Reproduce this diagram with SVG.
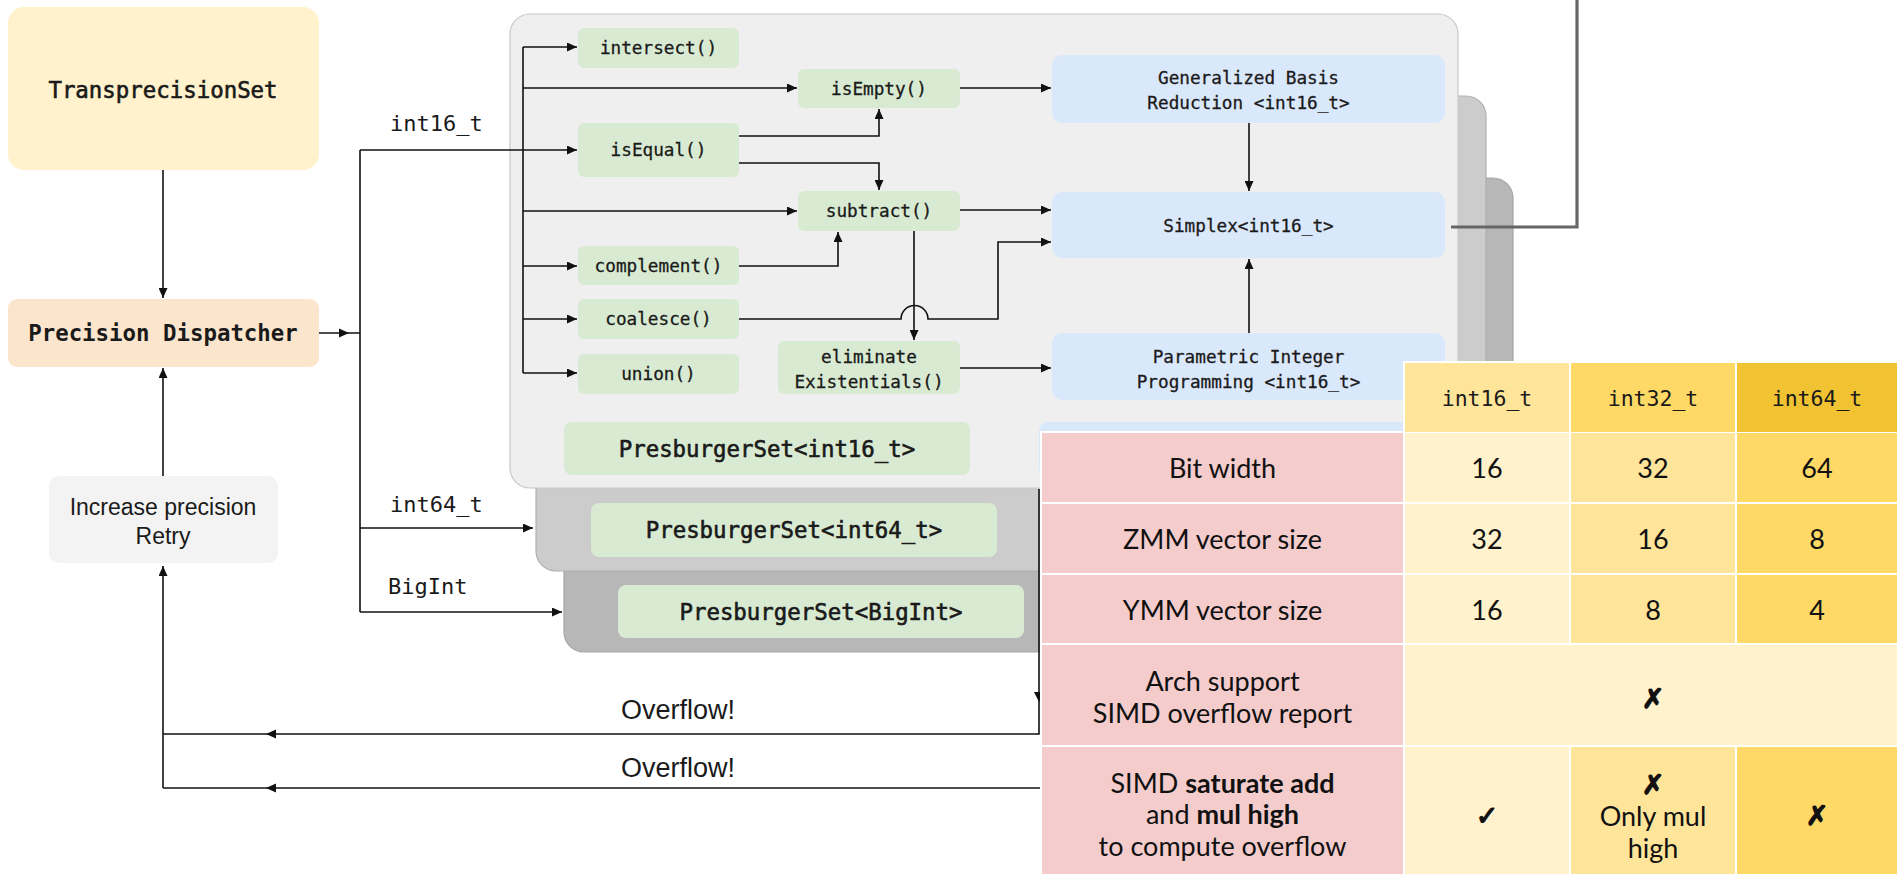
<svg xmlns="http://www.w3.org/2000/svg" width="1897" height="874" viewBox="0 0 1897 874">
<defs>
<style>
.mono{font-family:"DejaVu Sans Mono","Liberation Mono",monospace;fill:#1a1a1a}
.fn{font-size:17.7px;stroke:#1a1a1a;stroke-width:0.3}
.big{font-size:22.4px;stroke:#1a1a1a;stroke-width:0.6}
.bold{font-weight:bold;stroke:none}
.lbl{font-size:22px}
.sans{font-family:"Liberation Sans",Arial,sans-serif;fill:#1a1a1a}
.lato{font-family:Lato,"DejaVu Sans",sans-serif;fill:#111;font-size:27px}
.c{text-anchor:middle;dominant-baseline:central}
.green{fill:#d9ead3}
.blue{fill:#dae8fc}
.ln{fill:none;stroke:#111;stroke-width:1.6}
.pink{fill:#f4cccc}
.heavy{stroke:#111;stroke-width:1.3}
</style>
<marker id="ah" viewBox="0 0 10 9" refX="10" refY="4.5" markerWidth="10" markerHeight="9" markerUnits="userSpaceOnUse" orient="auto"><path d="M0,0 L10,4.5 L0,9 z" fill="#111"/></marker>
</defs>
<rect width="1897" height="874" fill="#fff"/>

<g id="container-bigint">
<rect x="564" y="178" width="949" height="474" rx="20" fill="#b7b7b7" stroke="#a5a5a5" stroke-width="1.2"/>
</g>
<g id="container-int64">
<rect x="536" y="96" width="950" height="475" rx="20" fill="#cccccc" stroke="#b0b0b0" stroke-width="1.2"/>
</g>
<g id="container-int16">
<rect x="510" y="14" width="948" height="474" rx="20" fill="#efefef" stroke="#c8c8c8" stroke-width="1.2"/>
</g>

<g id="transprecisionset"><rect x="8" y="7" width="311" height="163" rx="16" fill="#fff2cc"/><text class="mono big c" x="163" y="90">TransprecisionSet</text></g>
<g id="dispatcher"><rect x="8" y="299" width="311" height="68" rx="9" fill="#fce5cd"/><text class="mono big bold c" x="163" y="333">Precision Dispatcher</text></g>
<g id="retry"><rect x="49" y="476" width="229" height="87" rx="10" fill="#f3f3f3"/><text class="sans c" x="163" y="507" font-size="23" fill="#333">Increase precision</text><text class="sans c" x="163" y="536" font-size="23" fill="#333">Retry</text></g>

<g id="intersect"><rect class="green" x="578" y="28" width="161" height="40" rx="6"/><text class="mono fn c" x="658.5" y="48">intersect()</text></g>
<g id="isempty"><rect class="green" x="798" y="69" width="162" height="39" rx="6"/><text class="mono fn c" x="879" y="88.5">isEmpty()</text></g>
<g id="isequal"><rect class="green" x="578" y="123" width="161" height="54" rx="6"/><text class="mono fn c" x="658.5" y="150">isEqual()</text></g>
<g id="subtract"><rect class="green" x="798" y="191" width="162" height="40" rx="6"/><text class="mono fn c" x="879" y="211">subtract()</text></g>
<g id="complement"><rect class="green" x="578" y="246" width="161" height="39" rx="6"/><text class="mono fn c" x="658.5" y="265.5">complement()</text></g>
<g id="coalesce"><rect class="green" x="578" y="299" width="161" height="40" rx="6"/><text class="mono fn c" x="658.5" y="319">coalesce()</text></g>
<g id="union"><rect class="green" x="578" y="354" width="161" height="40" rx="6"/><text class="mono fn c" x="658.5" y="374">union()</text></g>
<g id="eliminate"><rect class="green" x="778" y="341" width="182" height="53" rx="6"/><text class="mono fn c" x="869" y="357">eliminate</text><text class="mono fn c" x="869" y="382">Existentials()</text></g>

<g id="gbr"><rect class="blue" x="1052" y="55" width="393" height="68" rx="10"/><text class="mono fn c" x="1248.5" y="78">Generalized Basis</text><text class="mono fn c" x="1248.5" y="103">Reduction &lt;int16_t&gt;</text></g>
<g id="simplex"><rect class="blue" x="1052" y="192" width="393" height="66" rx="10"/><text class="mono fn c" x="1248.5" y="226">Simplex&lt;int16_t&gt;</text></g>
<g id="pip"><rect class="blue" x="1052" y="333" width="393" height="67" rx="10"/><text class="mono fn c" x="1248.5" y="357">Parametric Integer</text><text class="mono fn c" x="1248.5" y="382">Programming &lt;int16_t&gt;</text></g>
<g id="hidden-blue"><rect class="blue" x="1039" y="422" width="406" height="55" rx="9"/></g>

<g id="ps-int16"><rect class="green" x="564" y="422" width="406" height="53" rx="8"/><text class="mono big c" x="767" y="449">PresburgerSet&lt;int16_t&gt;</text></g>
<g id="ps-int64"><rect class="green" x="591" y="503" width="406" height="54" rx="8"/><text class="mono big c" x="794" y="530">PresburgerSet&lt;int64_t&gt;</text></g>
<g id="ps-bigint"><rect class="green" x="618" y="585" width="406" height="53" rx="8"/><text class="mono big c" x="821" y="612">PresburgerSet&lt;BigInt&gt;</text></g>

<g id="connectors">
<path class="ln" d="M163,170 V298" marker-end="url(#ah)"/>
<path class="ln" d="M319,333 H360"/>
<path d="M339,328.5 L349,333 L339,337.5 z" fill="#111"/>
<path class="ln" d="M360,150 V612"/>
<path class="ln" d="M360,150 H577" marker-end="url(#ah)"/>
<path class="ln" d="M360,528 H533" marker-end="url(#ah)"/>
<path class="ln" d="M360,612 H562" marker-end="url(#ah)"/>
<path class="ln" d="M163,476 V368" marker-end="url(#ah)"/>
<path class="ln" d="M523,47 V373"/>
<path class="ln" d="M523,47 H577" marker-end="url(#ah)"/>
<path class="ln" d="M523,88 H797" marker-end="url(#ah)"/>
<path class="ln" d="M523,211 H797" marker-end="url(#ah)"/>
<path class="ln" d="M523,266 H577" marker-end="url(#ah)"/>
<path class="ln" d="M523,319 H577" marker-end="url(#ah)"/>
<path class="ln" d="M523,373 H577" marker-end="url(#ah)"/>
<path class="ln" d="M739,136 H879 V109" marker-end="url(#ah)"/>
<path class="ln" d="M739,163 H879 V190" marker-end="url(#ah)"/>
<path class="ln" d="M739,266 H838 V232" marker-end="url(#ah)"/>
<path class="ln" d="M914,231 V340" marker-end="url(#ah)"/>
<path class="ln" d="M739,319 H901 A13.5,13.5 0 0 1 928,319 H998 V242 H1051" marker-end="url(#ah)"/>
<path class="ln" d="M960,88 H1051" marker-end="url(#ah)"/>
<path class="ln" d="M960,210 H1051" marker-end="url(#ah)"/>
<path class="ln" d="M960,368 H1051" marker-end="url(#ah)"/>
<path class="ln" d="M1249,123 V191" marker-end="url(#ah)"/>
<path class="ln" d="M1249,333 V259" marker-end="url(#ah)"/>
<path d="M1451,227 H1577 V0" fill="none" stroke="#666" stroke-width="3.2"/>
<path class="ln" d="M1039,489 V734 H163"/>
<path class="ln" d="M163,788 V566" marker-end="url(#ah)"/>
<path class="ln" d="M1045,788 H163"/>
<path d="M1034,692 L1044,692 L1039,702 z" fill="#111"/>
<path d="M276,729.5 L266,734 L276,738.5 z" fill="#111"/>
<path d="M276,783.5 L266,788 L276,792.5 z" fill="#111"/>
</g>

<g id="labels">
<text class="mono lbl" x="390" y="131">int16_t</text>
<text class="mono lbl" x="390" y="512">int64_t</text>
<text class="mono lbl" x="388" y="594">BigInt</text>
<text class="sans c" x="678" y="710" font-size="27">Overflow!</text>
<text class="sans c" x="678" y="768" font-size="27">Overflow!</text>
</g>

<g id="table">
<rect x="1403" y="361" width="494" height="71" fill="#fff"/>
<rect x="1040" y="431" width="857" height="443" fill="#fff"/>
<rect x="1405" y="363" width="164" height="69" fill="#ffe599"/>
<rect x="1571" y="363" width="164" height="69" fill="#ffd966"/>
<rect x="1737" y="363" width="162" height="69" fill="#f1c232"/>
<text class="mono c" x="1487" y="398" font-size="21.5">int16_t</text>
<text class="mono c" x="1653" y="398" font-size="21.5">int32_t</text>
<text class="mono c" x="1817" y="398" font-size="21.5">int64_t</text>

<rect class="pink" x="1042" y="433" width="361" height="69"/>
<rect class="pink" x="1042" y="504" width="361" height="69"/>
<rect class="pink" x="1042" y="575" width="361" height="68"/>
<rect class="pink" x="1042" y="645" width="361" height="100"/>
<rect class="pink" x="1042" y="747" width="361" height="130"/>

<rect x="1405" y="433" width="164" height="69" fill="#fff2cc"/>
<rect x="1571" y="433" width="164" height="69" fill="#ffe599"/>
<rect x="1737" y="433" width="162" height="69" fill="#ffd966"/>
<rect x="1405" y="504" width="164" height="69" fill="#fff2cc"/>
<rect x="1571" y="504" width="164" height="69" fill="#ffe599"/>
<rect x="1737" y="504" width="162" height="69" fill="#ffd966"/>
<rect x="1405" y="575" width="164" height="68" fill="#fff2cc"/>
<rect x="1571" y="575" width="164" height="68" fill="#ffe599"/>
<rect x="1737" y="575" width="162" height="68" fill="#ffd966"/>
<rect x="1405" y="645" width="494" height="100" fill="#fff2cc"/>
<rect x="1405" y="747" width="164" height="130" fill="#fff2cc"/>
<rect x="1571" y="747" width="164" height="130" fill="#ffe599"/>
<rect x="1737" y="747" width="162" height="130" fill="#ffd966"/>

<text class="lato c" x="1222.5" y="467">Bit width</text>
<text class="lato c" x="1222.5" y="538">ZMM vector size</text>
<text class="lato c" x="1222.5" y="609">YMM vector size</text>
<text class="lato c" x="1222.5" y="680">Arch support</text>
<text class="lato c" x="1222.5" y="712">SIMD overflow report</text>
<text class="lato c" x="1222.5" y="782">SIMD <tspan font-weight="bold">saturate add</tspan></text>
<text class="lato c" x="1222.5" y="813">and <tspan font-weight="bold">mul high</tspan></text>
<text class="lato c" x="1222.5" y="845">to compute overflow</text>

<text class="lato c" x="1487" y="467">16</text>
<text class="lato c" x="1653" y="467">32</text>
<text class="lato c" x="1817" y="467">64</text>
<text class="lato c" x="1487" y="538">32</text>
<text class="lato c" x="1653" y="538">16</text>
<text class="lato c" x="1817" y="538">8</text>
<text class="lato c" x="1487" y="609">16</text>
<text class="lato c" x="1653" y="609">8</text>
<text class="lato c" x="1817" y="609">4</text>
<text class="lato c heavy" x="1653" y="697">✗</text>
<text class="lato c heavy" x="1487" y="814" font-size="34">✓</text>
<text class="lato c heavy" x="1653" y="783">✗</text>
<text class="lato c" x="1653" y="815">Only mul</text>
<text class="lato c" x="1653" y="847">high</text>
<text class="lato c heavy" x="1817" y="814">✗</text>
</g>
</svg>
